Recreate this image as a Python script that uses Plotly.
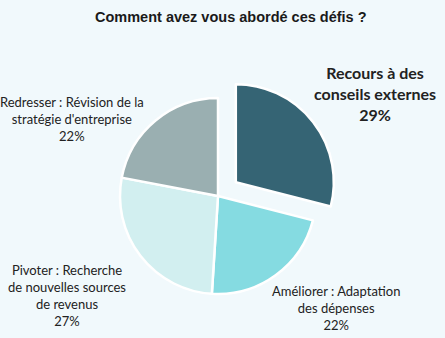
import plotly.graph_objects as go

categories = ["Recours à des conseils externes", "Améliorer : Adaptation des dépenses",
              "Pivoter : Recherche de nouvelles sources de revenus",
              "Redresser : Révision de la stratégie d'entreprise"]
values = [29, 22, 27, 22]
label_texts = ["<b>Recours à des<br>conseils externes<br>29%</b>",
               "Améliorer : Adaptation<br>des dépenses<br>22%",
               "Pivoter : Recherche<br>de nouvelles sources<br>de revenus<br>27%",
               "Redresser : Révision de la<br>stratégie d'entreprise<br>22%"]
colors = ["#356474", "#85DBE1", "#D2EFF0", "#9AAFB1"]
pulls = [0.23, 0, 0, 0]

W, H = 445, 338
cx, cy, r = 218, 196, 98
half = r * (1 + max(pulls))

fig = go.Figure(go.Pie(
    labels=categories, values=values, sort=False, direction="clockwise", rotation=0,
    pull=pulls, marker=dict(colors=colors, line=dict(color="white", width=2.5)),
    textinfo="none", hoverinfo="label+percent", showlegend=False,
    domain=dict(x=[(cx - half) / W, (cx + half) / W],
                y=[(H - cy - half) / H, (H - cy + half) / H]),
))

label_pos = [(375, 94, 16), (336, 308, 13), (67, 295, 13), (72, 119, 13)]
anns = []
for t, (x, y, s) in zip(label_texts, label_pos):
    anns.append(dict(text=t, x=x / W, y=1 - y / H, xref="paper", yref="paper",
                     showarrow=False, xanchor="center", yanchor="middle",
                     font=dict(family="Lato", size=s, color="#222222")))
anns.append(dict(text="<b>Comment avez vous abordé ces défis ?</b>", x=231 / W, y=1 - 17 / H,
                 xref="paper", yref="paper", showarrow=False, xanchor="center", yanchor="middle",
                 font=dict(family="Liberation Sans", size=14.5, color="#1A1A1A")))

fig.update_layout(width=W, height=H, margin=dict(l=0, r=0, t=0, b=0),
                  paper_bgcolor="#F1F9FC", plot_bgcolor="#F1F9FC", annotations=anns)
fig.write_html("out.html")
